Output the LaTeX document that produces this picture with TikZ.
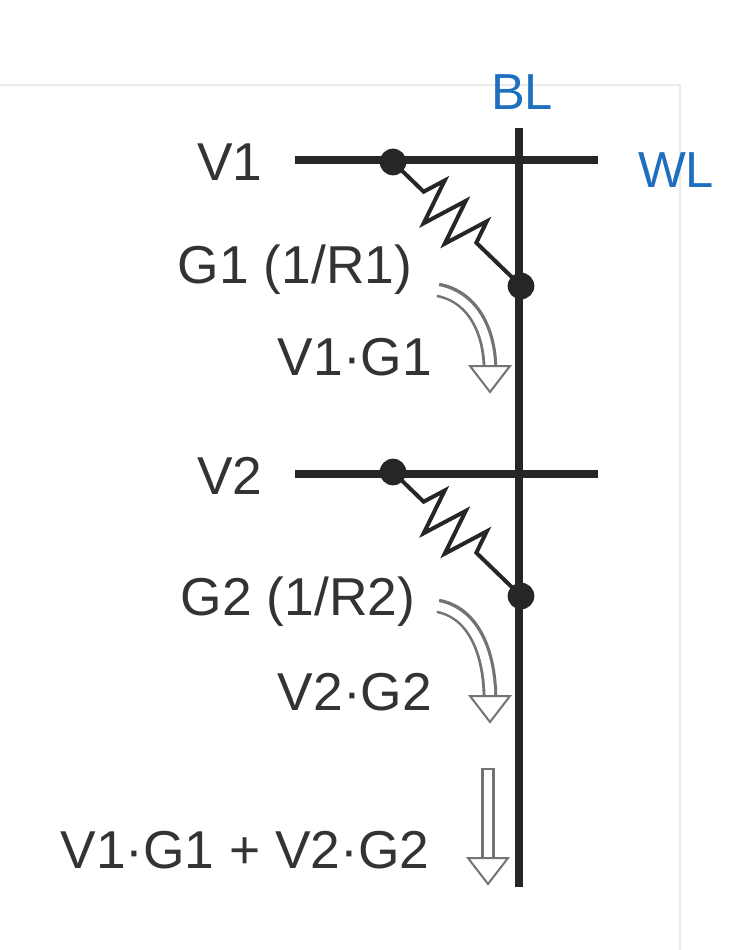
\documentclass[tikz,border=0pt]{standalone}
\usepackage{fontspec}
\setmainfont{Liberation Sans}
\usetikzlibrary{decorations.pathmorphing}
\definecolor{txt}{HTML}{333333}
\definecolor{blu}{HTML}{1F6FBF}
\begin{document}
\begin{tikzpicture}[x=0.75pt,y=-0.75pt,
  wire/.style={line width=6.5pt,color=black!85},
  dotc/.style={circle,fill=black!85,inner sep=0pt,minimum size=20pt},
  lab/.style={font=\fontsize{40}{42}\selectfont,text=txt,inner sep=0pt},
  blab/.style={font=\fontsize{38}{40}\selectfont,text=blu,inner sep=0pt},
  res/.style={line width=3pt,color=black!85,decorate,decoration={zigzag,amplitude=17pt,segment length=22pt,pre length=32pt,post length=40pt}},
  hshaft/.style={line width=11pt,color=black!55},
  hin/.style={line width=6.5pt,color=white}]
\useasboundingbox (0,0) rectangle (748,950);
\draw[black!8,line width=1pt] (0,85) -- (680,85) -- (680,950);
% bit line and word lines
\coordinate (blt) at (519,128); \coordinate (blb) at (519,887);
\draw[wire] (blt) -- (blb);
\coordinate (w1l) at (295,160); \coordinate (w1r) at (598,160);
\coordinate (w2l) at (295,474); \coordinate (w2r) at (598,474);
\draw[wire] (w1l) -- (w1r);
\draw[wire] (w2l) -- (w2r);
\node[dotc] (d1a) at (393,162) {};
\node[dotc] (d1b) at (521,286) {};
\node[dotc] (d2a) at (393,472) {};
\node[dotc] (d2b) at (521,596) {};
\draw[res] (d1a.center) -- (d1b.center);
\draw[res] (d2a.center) -- (d2b.center);
% labels
\node[blab] (bl) at (522,92) {BL};
\node[blab] (wl) at (676,170) {WL};
\node[lab] (v1) at (230,162) {V1};
\node[lab] (v2) at (230,476) {V2};
\node[lab] (g1) at (295,270) {G1 (1/R1)};
\node[lab] (p1) at (355,357) {V1·G1};
\node[lab] (g2) at (298,602) {G2 (1/R2)};
\node[lab] (p2) at (355,692) {V2·G2};
\node[lab] (s) at (245,850) {V1·G1 + V2·G2};
% hollow arrows
\newcommand\hhead[1]{\filldraw[black!55,fill=white,line width=1.5pt] (#1) ++(-20,-4) -- ++(40,0) -- ++(-20,26) -- cycle;}
\draw[hshaft] (438,290) .. controls (472,296) and (490,330) .. (490,370);
\draw[hin] (436,290) .. controls (472,296) and (490,330) .. (490,372);
\coordinate (h1) at (490,370); \hhead{h1}
\draw[hshaft] (438,606) .. controls (472,612) and (490,650) .. (490,700);
\draw[hin] (436,606) .. controls (472,612) and (490,650) .. (490,702);
\coordinate (h2) at (490,700); \hhead{h2}
\draw[hshaft] (488,768) -- (488,862);
\draw[hin] (488,770) -- (488,864);
\coordinate (h3) at (488,862); \hhead{h3}
\end{tikzpicture}
\end{document}
